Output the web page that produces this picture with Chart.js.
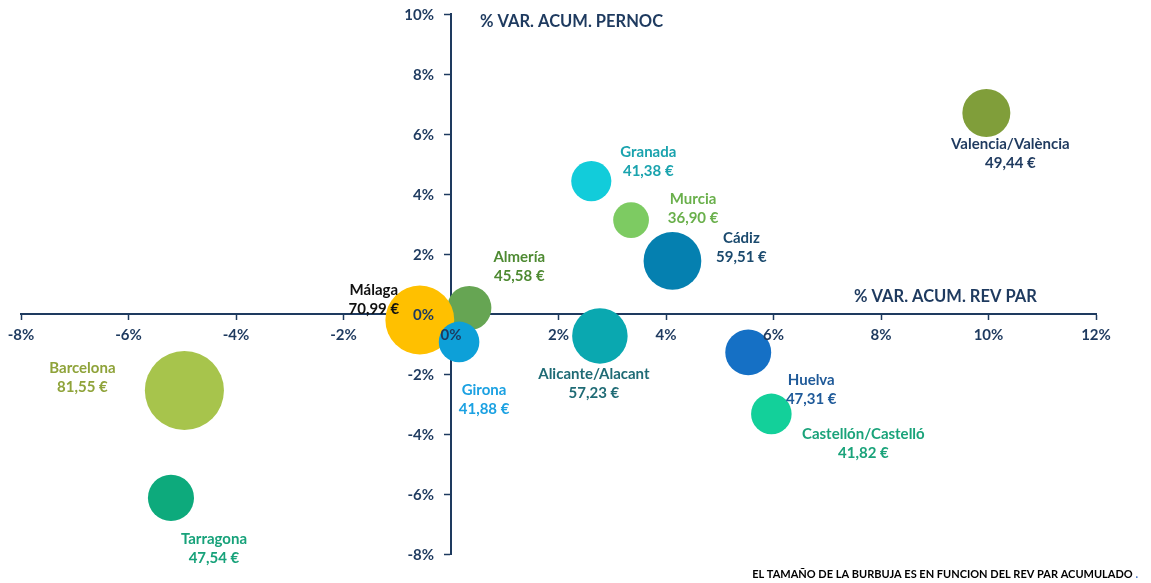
<!DOCTYPE html>
<html>
<head>
<meta charset="utf-8">
<script src="https://cdn.jsdelivr.net/npm/chart.js@4.4.1/dist/chart.umd.min.js"></script>
<style>
  body { margin: 0; background: #fff; }
  #wrap { width: 1151px; height: 583px; position: relative; }
</style>
</head>
<body>
<div id="wrap"><canvas id="bubbleChart"></canvas></div>
<script>
// datos
var cities = ["Valencia/València", "Granada", "Murcia", "Cádiz", "Almería", "Málaga",
  "Girona", "Alicante/Alacant", "Huelva", "Castellón/Castelló", "Barcelona", "Tarragona"];
// % var. acum. rev par (eje x)
var varRevPar = [9.96, 2.61, 3.35, 4.12, 0.34, -0.58, 0.15, 2.77, 5.53, 5.96, -4.96, -5.21];
// % var. acum. pernoctaciones (eje y)
var varPernoc = [6.70, 4.43, 3.13, 1.77, 0.20, -0.20, -0.93, -0.73, -1.28, -3.33, -2.55, -6.13];
// rev par acumulado (tamaño de la burbuja)
var revPar = [49.44, 41.38, 36.90, 59.51, 45.58, 70.99, 41.88, 57.23, 47.31, 41.82, 81.55, 47.54];

var xTicks = { min: -8, max: 12, step: 2 };
var yTicks = { min: -8, max: 10, step: 2 };

// colores
var bubbleColors = ["#809E3A", "#12CCDA", "#7DCB62", "#0580B0", "#66A553", "#FFC000",
  "#0DA0D8", "#0AA8B0", "#1570C5", "#13D09A", "#A7C44C", "#0DAA7C"];
var textColors = ["#1F3A5F", "#1AA3AE", "#6AB04C", "#1B4A6E", "#4E8A32", "#111111",
  "#1BA1E2", "#1F6B75", "#1F5A99", "#1AA37A", "#8FA33A", "#17A27A"];
// posición de las etiquetas respecto al centro de la burbuja
var labelOffsets = [[24, 31], [57, -29], [62, -21], [69, -23], [50, -51], [-46, -30],
  [25, 48], [-6, 38], [63, 28], [92, 20], [-102, -22], [43, 41]];

var navy = "#1E3A5F";
var FONT = "Lato, 'Open Sans', sans-serif";

function fmtEuro(v) {
  return v.toFixed(2).replace(".", ",") + " €";
}

var points = cities.map(function (c, i) {
  return { x: varRevPar[i], y: varPernoc[i], r: revPar[i] * 0.485 };
});

// quita el espacio que reservan los ejes centrados
function noSpace(s) {
  if (s.isHorizontal()) { s.height = 0; } else { s.width = 0; }
  s.paddingLeft = s.paddingRight = s.paddingTop = s.paddingBottom = 0;
}

// etiquetas de los ejes, de las burbujas, títulos y nota
var labelPlugin = {
  id: "labels",
  afterDatasetsDraw: function (chart) {
    var ctx = chart.ctx;
    var xs = chart.scales.x, ys = chart.scales.y;
    var x0 = xs.getPixelForValue(0), y0 = ys.getPixelForValue(0);
    ctx.save();
    ctx.textBaseline = "middle";

    // valores de los ejes (por encima de las burbujas)
    ctx.font = "bold 15px " + FONT;
    ctx.fillStyle = navy;
    ctx.textAlign = "center";
    xs.ticks.forEach(function (t) {
      ctx.fillText(t.value + "%", xs.getPixelForValue(t.value), y0 + 21);
    });
    ctx.textAlign = "right";
    ys.ticks.forEach(function (t) {
      ctx.fillText(t.value + "%", x0 - 17, ys.getPixelForValue(t.value) + 1);
    });

    // burbujas
    var meta = chart.getDatasetMeta(0);
    ctx.textAlign = "center";
    ctx.font = "bold 15px " + FONT;
    meta.data.forEach(function (el, i) {
      var off = labelOffsets[i];
      ctx.fillStyle = textColors[i];
      ctx.fillText(cities[i], el.x + off[0], el.y + off[1]);
      ctx.fillText(fmtEuro(revPar[i]), el.x + off[0], el.y + off[1] + 19);
    });

    ctx.fillStyle = navy;
    ctx.font = "bold 16.5px " + FONT;
    ctx.textAlign = "left";
    ctx.fillText("% VAR. ACUM. PERNOC", x0 + 29, chart.chartArea.top + 8);
    ctx.textAlign = "right";
    ctx.fillText("% VAR. ACUM. REV PAR", xs.getPixelForValue(10.9), y0 - 17);

    ctx.font = "bold 11px " + FONT;
    var note = "EL TAMAÑO DE LA BURBUJA ES EN FUNCION DEL REV PAR ACUMULADO ";
    ctx.fillStyle = "#4472C4";
    ctx.fillText(".", 1138, 574);
    var dotW = ctx.measureText(".").width;
    ctx.fillStyle = "#000";
    ctx.fillText(note, 1138 - dotW, 574);
    ctx.restore();
  }
};

var ctx1 = document.getElementById("bubbleChart");
var myChart1 = new Chart(ctx1, {
  type: "bubble",
  data: {
    datasets: [{
      data: points,
      backgroundColor: bubbleColors,
      borderWidth: 0,
      hoverBorderWidth: 0,
      clip: false
    }]
  },
  options: {
    responsive: true,
    maintainAspectRatio: false,
    animation: false,
    layout: { autoPadding: false, padding: { left: 21, right: 55, top: 14, bottom: 29 } },
    plugins: {
      legend: { display: false },
      tooltip: { enabled: false }
    },
    scales: {
      x: {
        type: "linear",
        position: { y: 0 },
        min: xTicks.min,
        max: xTicks.max,
        afterFit: noSpace,
        border: { display: true, color: navy, width: 2 },
        grid: { drawOnChartArea: false, drawTicks: true, tickLength: 5, tickColor: navy, tickWidth: 1.5 },
        ticks: { display: false, stepSize: xTicks.step }
      },
      y: {
        type: "linear",
        position: { x: 0 },
        min: yTicks.min,
        max: yTicks.max,
        afterFit: noSpace,
        border: { display: true, color: navy, width: 2 },
        grid: { drawOnChartArea: false, drawTicks: true, tickLength: 6, tickColor: navy, tickWidth: 1.5 },
        ticks: { display: false, stepSize: yTicks.step }
      }
    }
  },
  plugins: [labelPlugin]
});
</script>
</body>
</html>
